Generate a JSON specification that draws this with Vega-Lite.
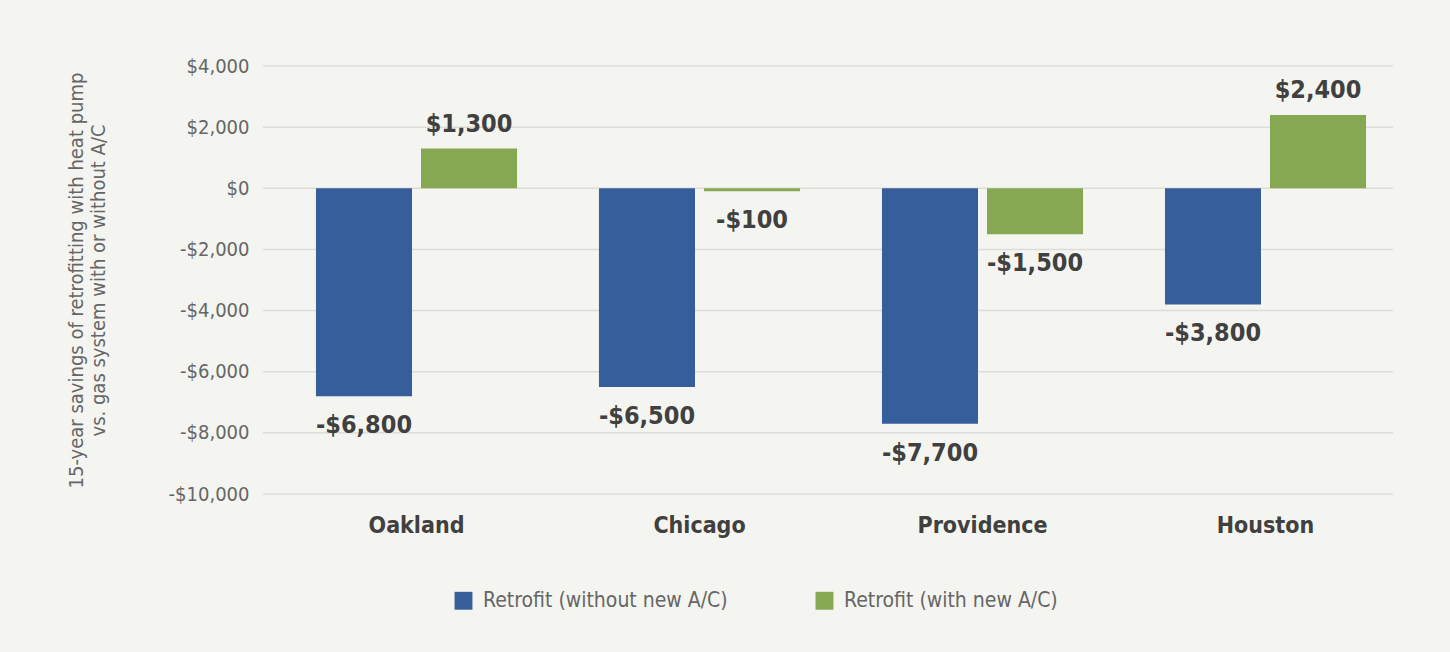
{
  "$schema": "https://vega.github.io/schema/vega-lite/v6.json",
  "width": 1130,
  "height": 428,
  "autosize": "none",
  "padding": {"left": 263, "top": 66, "right": 57, "bottom": 158},
  "background": "#f4f5f0",
  "config": {
    "view": {"stroke": null},
    "font": "DejaVu Sans Condensed, sans-serif",
    "axis": {"domain": false, "ticks": false, "grid": false}
  },
  "datasets": {
    "bars": [
      {"city": "Oakland", "series": "Retrofit (without new A/C)", "value": -6800},
      {"city": "Oakland", "series": "Retrofit (with new A/C)", "value": 1300},
      {"city": "Chicago", "series": "Retrofit (without new A/C)", "value": -6500},
      {"city": "Chicago", "series": "Retrofit (with new A/C)", "value": -100},
      {"city": "Providence", "series": "Retrofit (without new A/C)", "value": -7700},
      {"city": "Providence", "series": "Retrofit (with new A/C)", "value": -1500},
      {"city": "Houston", "series": "Retrofit (without new A/C)", "value": -3800},
      {"city": "Houston", "series": "Retrofit (with new A/C)", "value": 2400}
    ],
    "grid": [
      {"value": -10000}, {"value": -8000}, {"value": -6000}, {"value": -4000},
      {"value": -2000}, {"value": 0}, {"value": 2000}, {"value": 4000}
    ]
  },
  "layer": [
    {
      "data": {"name": "grid"},
      "mark": {"type": "rule", "color": "#dcdcd8", "strokeWidth": 1.5},
      "encoding": {
        "y": {
          "field": "value", "type": "quantitative",
          "scale": {"domain": [-10000, 4000], "nice": false, "zero": true},
          "axis": {
            "values": [-10000, -8000, -6000, -4000, -2000, 0, 2000, 4000],
            "labelExpr": "datum.value < 0 ? '-$' + format(-datum.value, ',') : '$' + format(datum.value, ',')",
            "labelFontSize": 20, "labelColor": "#666666", "labelPadding": 14,
            "title": ["15-year savings of retrofitting with heat pump", "vs. gas system with or without A/C"],
            "titleFontSize": 20, "titleFontWeight": "normal", "titleColor": "#666666", "titlePadding": 60, "titleLineHeight": 22
          }
        }
      }
    },
    {
      "data": {"name": "bars"},
      "transform": [
        {"calculate": "datum.value < 0 ? '-$' + format(-datum.value, ',') : '$' + format(datum.value, ',')", "as": "label"}
      ],
      "encoding": {
        "x": {
          "field": "city", "type": "nominal", "sort": null,
          "scale": {"paddingInner": 0, "paddingOuter": 0, "range": [12, 1144]},
          "axis": {"title": null, "labelAngle": 0, "labelFontSize": 23, "labelFontWeight": "bold", "labelColor": "#404040", "labelPadding": 20}
        },
        "xOffset": {
          "field": "series", "type": "nominal", "sort": null,
          "scale": {"paddingInner": 0.0857, "paddingOuter": 0.39}
        },
        "y": {"field": "value", "type": "quantitative"}
      },
      "layer": [
        {
          "mark": {"type": "bar"},
          "encoding": {
            "color": {
              "field": "series", "type": "nominal", "sort": null,
              "scale": {"range": ["#355e9b", "#86a853"]},
              "legend": {
                "title": null, "orient": "none", "direction": "horizontal",
                "legendX": 190, "legendY": 524,
                "symbolType": "square", "symbolSize": 320, "symbolStrokeWidth": 0,
                "labelFontSize": 21, "labelColor": "#666666", "labelLimit": 400,
                "columnPadding": 86, "labelOffset": 9
              }
            }
          }
        },
        {
          "transform": [{"filter": "datum.value >= 0"}],
          "mark": {"type": "text", "baseline": "bottom", "dy": -12, "fontSize": 25, "fontWeight": "bold", "color": "#404040"},
          "encoding": {"text": {"field": "label"}}
        },
        {
          "transform": [{"filter": "datum.value < 0"}],
          "mark": {"type": "text", "baseline": "top", "dy": 17, "fontSize": 25, "fontWeight": "bold", "color": "#404040"},
          "encoding": {"text": {"field": "label"}}
        }
      ]
    }
  ]
}
